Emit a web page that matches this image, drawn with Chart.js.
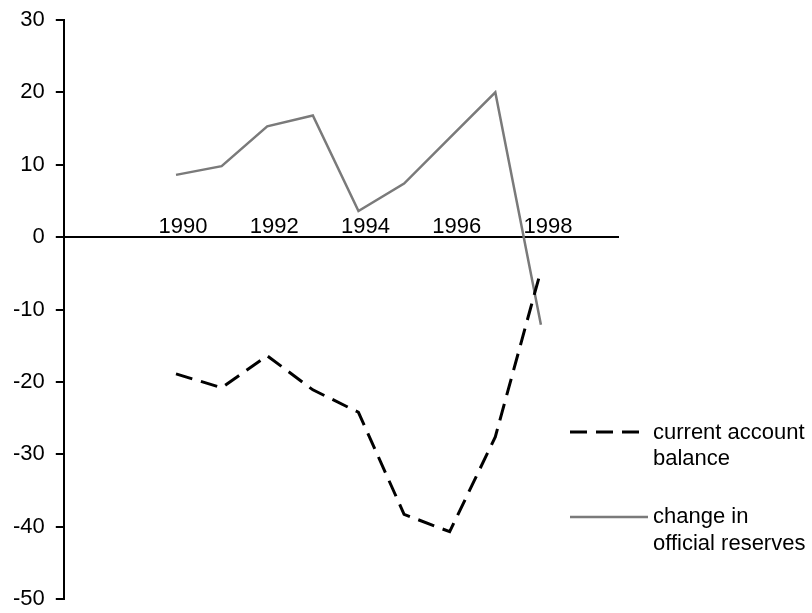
<!DOCTYPE html>
<html>
<head>
<meta charset="utf-8">
<script src="https://cdn.jsdelivr.net/npm/chart.js@4"></script>
<style>
  html, body { margin: 0; padding: 0; background: #fff; }
  #wrap { width: 812px; height: 613px; }
</style>
</head>
<body>
<div id="wrap"><canvas id="balanceChart" width="812" height="613"></canvas></div>
<script>
const years = [1990, 1991, 1992, 1993, 1994, 1995, 1996, 1997, 1998];
const currentAccount = [-18.9, -20.8, -16.4, -21.1, -24.2, -38.3, -40.7, -27.6, -4.6];
const officialReserves = [8.6, 9.8, 15.3, 16.8, 3.6, 7.4, 13.7, 20.0, -12.1];
const yearTicks = [1990, 1992, 1994, 1996, 1998];
const legendLabels = [['current account', 'balance'], ['change in', 'official reserves']];

const FONT = '"Liberation Sans", Arial, Helvetica, sans-serif';

// hand-drawn legend to the right of the plot
const sideLegend = {
  id: 'sideLegend',
  afterDraw(chart) {
    const ctx = chart.ctx;
    ctx.save();
    ctx.font = '22px ' + FONT;
    ctx.fillStyle = '#000';
    ctx.textBaseline = 'middle';
    ctx.textAlign = 'left';

    ctx.strokeStyle = '#000';
    ctx.lineWidth = 3;
    ctx.setLineDash([17, 9]);
    ctx.beginPath();
    ctx.moveTo(570, 432);
    ctx.lineTo(641, 432);
    ctx.stroke();
    ctx.setLineDash([]);
    ctx.fillText(legendLabels[0][0], 653, 433);
    ctx.fillText(legendLabels[0][1], 653, 459);

    ctx.strokeStyle = '#7a7a7a';
    ctx.lineWidth = 2.5;
    ctx.beginPath();
    ctx.moveTo(570, 517);
    ctx.lineTo(648, 517);
    ctx.stroke();
    ctx.fillText(legendLabels[1][0], 653, 517);
    ctx.fillText(legendLabels[1][1], 653, 544);
    ctx.restore();
  }
};

new Chart(document.getElementById('balanceChart'), {
  type: 'line',
  data: {
    datasets: [
      {
        label: 'current account balance',
        data: years.map((yr, i) => ({ x: yr, y: currentAccount[i] })),
        borderColor: '#000',
        borderWidth: 3,
        borderDash: [17, 9],
        pointRadius: 0,
        tension: 0,
        fill: false
      },
      {
        label: 'change in official reserves',
        data: years.map((yr, i) => ({ x: yr, y: officialReserves[i] })),
        borderColor: '#7a7a7a',
        borderWidth: 2.5,
        pointRadius: 0,
        tension: 0,
        fill: false
      }
    ]
  },
  options: {
    responsive: false,
    animation: false,
    layout: { padding: { left: 2, right: 194, top: 20, bottom: 14 } },
    plugins: { legend: { display: false }, tooltip: { enabled: false } },
    scales: {
      x: {
        type: 'linear',
        position: { y: 0 },
        min: 1987.54,
        max: 1999.69,
        afterBuildTicks: (scale) => { scale.ticks = yearTicks.map(v => ({ value: v })); },
        grid: { display: false, drawTicks: false },
        border: { display: true, color: '#000', width: 2 },
        ticks: {
          mirror: true,
          padding: 3,
          labelOffset: 7,
          color: '#000',
          font: { family: FONT, size: 22 },
          callback: (v) => String(v)
        }
      },
      y: {
        min: -50,
        max: 30,
        afterFit: (scale) => { scale.paddingTop = 0; scale.paddingBottom = 0; },
        grid: { drawOnChartArea: false, drawTicks: true, tickLength: 8, color: '#000', lineWidth: 2 },
        border: { display: true, color: '#000', width: 2 },
        ticks: {
          stepSize: 10,
          padding: 11,
          color: '#000',
          font: { family: FONT, size: 22 }
        }
      }
    }
  },
  plugins: [sideLegend]
});
</script>
</body>
</html>
